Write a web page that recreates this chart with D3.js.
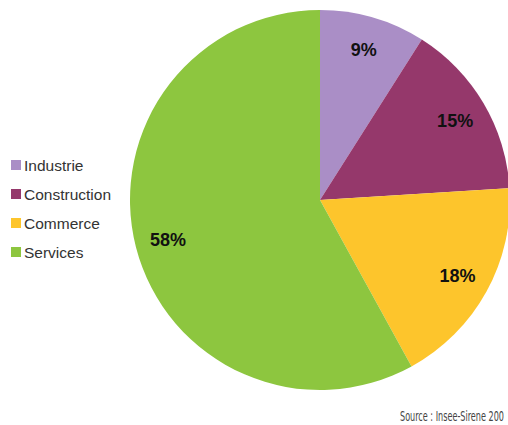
<!DOCTYPE html>
<html>
<head>
<meta charset="utf-8">
<script src="https://cdn.jsdelivr.net/npm/d3@7"></script>
<style>
  html, body { margin: 0; padding: 0; background: #fff; }
  svg { display: block; }
</style>
</head>
<body>
<svg id="chart" width="508" height="425"></svg>
<script>
// Établissements par secteur d'activité (%)
const sectors = ["Industrie", "Construction", "Commerce", "Services"];
const shares = [9, 15, 18, 58];
const sliceColors = ["#aa8ec6", "#95386b", "#fdc52c", "#8dc63f"];
const sourceNote = "Source : Insee-Sirene 200";

const svg = d3.select("#chart");
const cx = 320, cy = 200, radius = 190, labelRadius = 157;

const color = d3.scaleOrdinal().domain(sectors).range(sliceColors);

const pie = d3.pie().sort(null).value(d => d.value);
const data = sectors.map((s, i) => ({ name: s, value: shares[i] }));
const arcs = pie(data);

const arc = d3.arc().innerRadius(0).outerRadius(radius);
const labelArc = d3.arc().innerRadius(labelRadius).outerRadius(labelRadius);

const g = svg.append("g").attr("transform", `translate(${cx},${cy})`);

g.selectAll("path.slice")
  .data(arcs)
  .join("path")
  .attr("class", "slice")
  .attr("d", arc)
  .attr("fill", d => color(d.data.name));

g.selectAll("text.pct")
  .data(arcs)
  .join("text")
  .attr("class", "pct")
  .attr("transform", d => `translate(${labelArc.centroid(d)})`)
  .attr("text-anchor", "middle")
  .attr("dy", "0.36em")
  .attr("font-family", "Liberation Sans, Arial, sans-serif")
  .attr("font-weight", "bold")
  .attr("font-size", 18)
  .attr("fill", "#111")
  .text(d => d.data.value + "%");

// Légende
const legend = svg.append("g").attr("transform", "translate(11,160)");
const rowStep = 29;
const rows = legend.selectAll("g.row")
  .data(sectors)
  .join("g")
  .attr("class", "row")
  .attr("transform", (d, i) => `translate(0,${i * rowStep})`);

rows.append("rect")
  .attr("x", 0).attr("y", 0)
  .attr("width", 10).attr("height", 10)
  .attr("fill", d => color(d));

rows.append("text")
  .attr("x", 13)
  .attr("y", 11)
  .attr("font-family", "Liberation Sans, Arial, sans-serif")
  .attr("font-size", 15.5)
  .attr("fill", "#333")
  .text(d => d);

// Source, in a narrow face squeezed to fit the bottom-right corner
const note = svg.append("text")
  .attr("font-family", "Liberation Sans Narrow, DejaVu Sans Condensed, sans-serif")
  .attr("font-size", 14)
  .attr("fill", "#444")
  .text(sourceNote);
const natural = note.node().getComputedTextLength();
const sx = Math.min(1, 104 / natural);
note.attr("transform", `translate(400,421) scale(${sx},1)`);
</script>
</body>
</html>
